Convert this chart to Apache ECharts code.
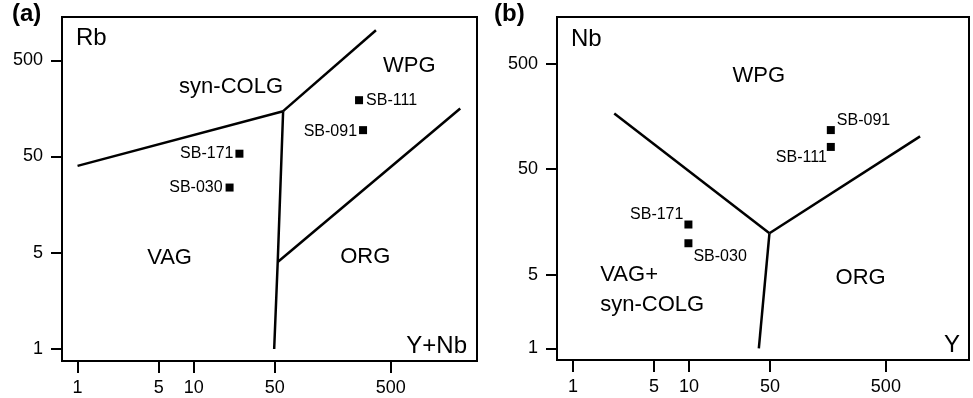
<!DOCTYPE html>
<html>
<head>
<meta charset="utf-8">
<script src="https://cdn.jsdelivr.net/npm/echarts@6/dist/echarts.min.js"></script>
<style>
  html, body { margin: 0; padding: 0; background: #fff; }
  #chart { width: 973px; height: 398px; }
</style>
</head>
<body>
<div id="chart"></div>
<script>
// ---------- Panel (a): Rb vs (Y+Nb) ----------
const samplesA = ['SB-111', 'SB-091', 'SB-171', 'SB-030'];
const ynbA = [266, 288, 24.8, 20.4];
const rbA = [385, 188, 107, 47.6];
// boundary lines (x = Y+Nb, y = Rb)
const lineA1 = [[1, 80], [59, 296]];
const lineA2 = [[59, 296], [372, 2050]];
const lineA3 = [[59, 296], [53, 8], [49.4, 1]];
const lineA4 = [[53, 8], [1980, 315]];
const xTicksA = [1, 5, 10, 50, 500];
const xTickLabelsA = ['1', '5', '10', '50', '500'];
const yTicksA = [1, 10, 100, 1000];
const yTickLabelsA = ['1', '5', '50', '500'];
const regionsA = [
  { text: 'syn-COLG', x: 21, y: 525 },
  { text: 'WPG', x: 721, y: 869 },
  { text: 'VAG', x: 6.2, y: 8.8 },
  { text: 'ORG', x: 301, y: 9.0 }
];

// ---------- Panel (b): Nb vs Y ----------
const samplesB = ['SB-091', 'SB-111', 'SB-171', 'SB-030'];
const yB = [167.5, 167.5, 9.9, 9.9];
const nbB = [117, 81, 14.9, 9.9];
const lineB1 = [[2.27, 168], [49.5, 12.3]];
const lineB2 = [[49.5, 12.3], [986, 102]];
const lineB3 = [[49.5, 12.3], [40.1, 1]];
const xTicksB = [1, 5, 10, 50, 500];
const xTickLabelsB = ['1', '5', '10', '50', '500'];
const yTicksB = [1, 5, 50, 500];
const yTickLabelsB = ['1', '5', '50', '500'];
const regionsB = [
  { text: 'WPG', x: 40, y: 380 },
  { text: 'ORG', x: 303, y: 4.65 },
  { text: 'VAG+\nsyn-COLG', x: 1.72, y: 3.56, align: 'left' }
];

// ---------- styling / placement ----------
const FONT = 'Liberation Sans, Arial, Helvetica, sans-serif';
const labelPlaceA = {
  'SB-111': { position: 'right', distance: 3, offset: [0, 0] },
  'SB-091': { position: 'left', distance: 2, offset: [0, 1] },
  'SB-171': { position: 'left', distance: 2, offset: [0, 0] },
  'SB-030': { position: 'left', distance: 3, offset: [0, 0] }
};
const labelPlaceB = {
  'SB-091': { position: 'right', distance: 2, offset: [0, -9] },
  'SB-111': { position: 'left', distance: 0, offset: [0, 11] },
  'SB-171': { position: 'left', distance: 1, offset: [0, -10] },
  'SB-030': { position: 'right', distance: 1, offset: [0, 13] }
};

function labelFor(ticks, labels) {
  return function (v) {
    let best = 0, bd = Infinity;
    ticks.forEach(function (t, i) {
      const d = Math.abs(Math.log10(t) - Math.log10(v));
      if (d < bd) { bd = d; best = i; }
    });
    return labels[best];
  };
}

function makeAxis(dim, gridIndex, min, max, ticks, labels, name, nameOpts) {
  const isX = dim === 'x';
  return Object.assign({
    type: 'log',
    logBase: 10,
    gridIndex: gridIndex,
    min: min,
    max: max,
    position: isX ? 'bottom' : 'left',
    name: name,
    nameLocation: 'end',
    axisLine: { show: true, lineStyle: { color: '#000', width: 2 } },
    axisTick: {
      show: true, inside: false, length: isX ? 12 : 11,
      customValues: ticks,
      lineStyle: { color: '#000', width: 2 }
    },
    minorTick: { show: false },
    axisLabel: {
      show: true,
      customValues: ticks,
      margin: isX ? 18 : 19,
      color: '#000',
      fontSize: 18,
      fontFamily: FONT,
      formatter: labelFor(ticks, labels)
    },
    splitLine: { show: false }
  }, nameOpts);
}

function lineSeries(data, xi, yi) {
  return {
    type: 'line',
    xAxisIndex: xi, yAxisIndex: yi,
    data: data,
    symbol: 'none',
    silent: true,
    animation: false,
    lineStyle: { color: '#000', width: 2.5 }
  };
}

function pointSeries(names, xs, ys, place, xi) {
  return {
    type: 'scatter',
    xAxisIndex: xi, yAxisIndex: xi,
    symbol: 'rect',
    symbolSize: 8,
    itemStyle: { color: '#000', opacity: 1 },
    animation: false,
    data: names.map(function (n, i) {
      const p = place[n];
      return {
        name: n,
        value: [xs[i], ys[i]],
        label: {
          show: true,
          formatter: n,
          position: p.position,
          distance: p.distance,
          offset: p.offset,
          color: '#000',
          fontSize: 16,
          fontFamily: FONT
        }
      };
    })
  };
}

function regionSeries(regions, xi) {
  return {
    type: 'scatter',
    xAxisIndex: xi, yAxisIndex: xi,
    symbolSize: 0,
    silent: true,
    animation: false,
    itemStyle: { opacity: 1 },
    data: regions.map(function (r) {
      return {
        value: [r.x, r.y],
        label: {
          show: true,
          formatter: r.text,
          position: 'inside',
          align: r.align || 'center',
          verticalAlign: 'middle',
          color: '#000',
          fontSize: 22,
          lineHeight: 30,
          fontFamily: FONT
        }
      };
    })
  };
}

const nameStyleY = { color: '#000', fontSize: 24, fontFamily: FONT, align: 'left', verticalAlign: 'middle', padding: [0, 0, 0, 14] };
const nameStyleX = { color: '#000', fontSize: 24, fontFamily: FONT, align: 'right', verticalAlign: 'bottom', padding: [0, 0, 3, 0] };

const option = {
  backgroundColor: '#fff',
  animation: false,
  textStyle: { fontFamily: FONT },
  title: [
    { text: '(a)', left: 12, top: 2, padding: 0, textStyle: { fontSize: 24, fontWeight: 'bold', color: '#000', fontFamily: FONT } },
    { text: '(b)', left: 494, top: 2, padding: 0, textStyle: { fontSize: 24, fontWeight: 'bold', color: '#000', fontFamily: FONT } }
  ],
  grid: [
    { left: 62, top: 17, width: 415, height: 344, show: true, borderColor: '#000', borderWidth: 2, backgroundColor: 'transparent' },
    { left: 557, top: 17, width: 412, height: 343, show: true, borderColor: '#000', borderWidth: 2, backgroundColor: 'transparent' }
  ],
  xAxis: [
    makeAxis('x', 0, Math.pow(10, -0.134), Math.pow(10, 3.441), xTicksA, xTickLabelsA, 'Y+Nb', { nameGap: -10, nameTextStyle: nameStyleX }),
    makeAxis('x', 1, Math.pow(10, -0.138), Math.pow(10, 3.416), xTicksB, xTickLabelsB, 'Y', { nameGap: -9, nameTextStyle: nameStyleX })
  ],
  yAxis: [
    makeAxis('y', 0, Math.pow(10, -0.125), Math.pow(10, 3.450), yTicksA, yTickLabelsA, 'Rb', { nameGap: -21, nameTextStyle: nameStyleY }),
    makeAxis('y', 1, Math.pow(10, -0.111), Math.pow(10, 3.140), yTicksB, yTickLabelsB, 'Nb', { nameGap: -22, nameTextStyle: nameStyleY })
  ],
  series: [
    lineSeries(lineA1, 0, 0),
    lineSeries(lineA2, 0, 0),
    lineSeries(lineA3, 0, 0),
    lineSeries(lineA4, 0, 0),
    pointSeries(samplesA, ynbA, rbA, labelPlaceA, 0),
    regionSeries(regionsA, 0),
    lineSeries(lineB1, 1, 1),
    lineSeries(lineB2, 1, 1),
    lineSeries(lineB3, 1, 1),
    pointSeries(samplesB, yB, nbB, labelPlaceB, 1),
    regionSeries(regionsB, 1)
  ]
};

const chart = echarts.init(document.getElementById('chart'), null, { renderer: 'canvas' });
chart.setOption(option);
</script>
</body>
</html>
